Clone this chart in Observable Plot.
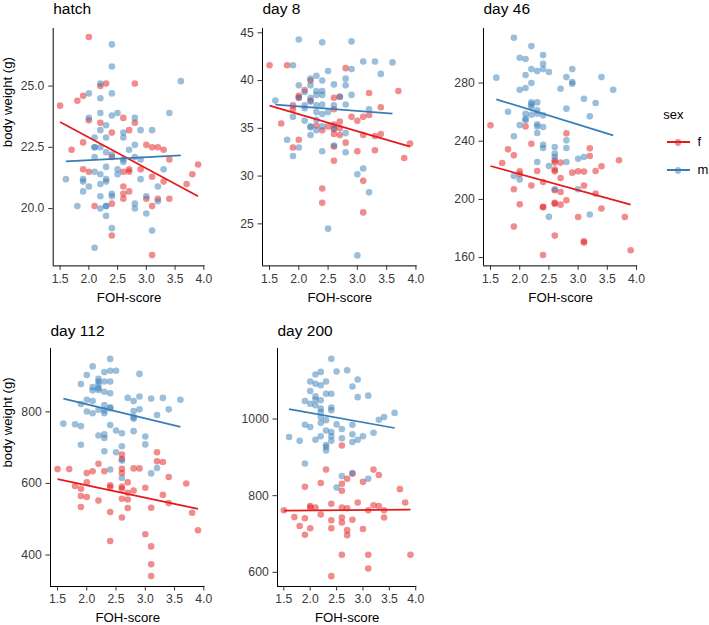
<!DOCTYPE html>
<html><head><meta charset="utf-8">
<script src="https://cdn.jsdelivr.net/npm/d3@7"></script>
<script src="https://cdn.jsdelivr.net/npm/@observablehq/plot@0.6"></script>
<style>
body{margin:0;background:#fff;font-family:"Liberation Sans",Arial,sans-serif;}
#root{position:relative;width:709px;height:625px;overflow:hidden;}
.panel{position:absolute;}
.lg{position:absolute;line-height:1;color:#000;white-space:nowrap;}
.key{position:absolute;width:23px;height:16px;}
.key .dot{position:absolute;left:8.2px;top:4.7px;width:6.6px;height:6.6px;border-radius:50%;opacity:0.5;}
.key .ln{position:absolute;left:0;top:7.2px;width:23px;height:1.7px;}
</style></head><body><div id="root"></div>
<script>
const sexes = ["f", "m"];
const sexColors = ["#E41A1C", "#377EB8"];
const xTicks = [1.5, 2.0, 2.5, 3.0, 3.5, 4.0];
const xDomain = [1.38, 4.02];
const panelTitles = ["hatch", "day 8", "day 46", "day 112", "day 200"];

// ---- hatch ----
const hatchF = [[1.5,24.2],[1.7,22.4],[1.8,24.4],[1.9,24.6],[1.9,22.7],[1.9,21.6],[2.0,27.0],[2.0,23.6],[2.0,21.5],[2.1,20.1],[2.2,25.0],[2.2,23.5],[2.3,25.1],[2.4,23.1],[2.4,22.1],[2.4,20.2],[2.4,18.9],[2.6,23.7],[2.6,21.5],[2.6,20.9],[2.6,20.6],[2.6,20.4],[2.7,23.2],[2.7,21.6],[2.7,21.5],[2.7,20.7],[2.8,25.1],[2.8,23.5],[2.9,21.6],[3.0,22.6],[3.0,20.4],[3.1,22.5],[3.1,21.3],[3.1,20.1],[3.1,18.1],[3.2,22.5],[3.2,20.4],[3.3,22.4],[3.3,21.1],[3.4,22.0],[3.4,20.4],[3.7,21.0],[3.8,21.4],[3.9,21.8]];
const hatchM = [[1.6,21.2],[1.8,20.1],[1.9,21.2],[1.9,21.1],[1.9,20.7],[2.0,24.7],[2.0,23.7],[2.0,20.9],[2.1,22.9],[2.1,22.5],[2.1,22.5],[2.1,22.1],[2.1,21.5],[2.1,18.4],[2.2,25.1],[2.2,24.5],[2.2,23.9],[2.2,23.2],[2.2,22.5],[2.2,21.4],[2.2,21.0],[2.2,20.5],[2.2,20.0],[2.3,23.4],[2.3,22.9],[2.3,22.3],[2.3,21.7],[2.3,21.2],[2.3,21.1],[2.3,20.1],[2.3,20.1],[2.3,19.7],[2.4,26.7],[2.4,25.8],[2.4,24.7],[2.4,23.8],[2.4,22.2],[2.4,20.6],[2.4,20.5],[2.4,19.2],[2.5,23.9],[2.5,21.6],[2.5,21.4],[2.6,23.1],[2.6,22.9],[2.6,22.0],[2.6,21.9],[2.7,22.4],[2.8,23.7],[2.8,22.6],[2.8,22.1],[2.8,20.2],[2.8,20.0],[2.9,23.2],[2.9,22.0],[2.9,21.2],[3.0,20.5],[3.0,19.8],[3.1,23.2],[3.1,19.1],[3.2,20.9],[3.2,20.3],[3.3,21.6],[3.4,23.9],[3.6,25.2]];
const hatchFit = [["f",1.5,23.53,3.9,20.50],["m",1.6,21.93,3.6,22.17]];
const hatchYDomain = [17.66, 27.35];
const hatchYTicks = [20, 22.5, 25];

// ---- day 8 ----
const day8F = [[1.5,41.6],[1.7,35.5],[1.8,41.6],[1.9,37.4],[1.9,37.0],[1.9,33.0],[2.0,38.4],[2.0,38.2],[2.0,33.8],[2.1,39.0],[2.2,40.0],[2.2,37.9],[2.3,35.3],[2.4,34.8],[2.4,28.7],[2.4,27.2],[2.5,35.2],[2.6,38.2],[2.6,37.0],[2.6,35.4],[2.6,34.9],[2.6,34.4],[2.6,33.1],[2.6,31.6],[2.7,38.3],[2.7,35.7],[2.7,35.0],[2.7,34.3],[2.8,41.3],[2.8,33.5],[2.9,36.2],[3.0,35.8],[3.0,32.6],[3.1,36.2],[3.1,34.3],[3.1,29.5],[3.1,26.2],[3.2,38.7],[3.2,36.4],[3.3,34.2],[3.3,32.7],[3.4,37.2],[3.4,34.4],[3.7,38.9],[3.8,31.9],[3.9,33.4]];
const day8M = [[1.6,37.9],[1.8,33.8],[1.9,41.6],[1.9,36.2],[1.9,32.1],[2.0,44.3],[2.0,39.5],[2.0,38.2],[2.0,33.0],[2.1,38.8],[2.1,37.4],[2.1,37.1],[2.1,35.8],[2.2,40.2],[2.2,39.5],[2.2,38.2],[2.2,37.8],[2.2,35.2],[2.2,35.1],[2.2,34.3],[2.3,40.5],[2.3,38.9],[2.3,38.5],[2.3,37.4],[2.3,36.7],[2.3,35.9],[2.3,34.8],[2.4,44.0],[2.4,40.0],[2.4,38.9],[2.4,38.5],[2.4,37.5],[2.4,36.5],[2.4,35.2],[2.4,32.6],[2.5,41.0],[2.5,36.7],[2.5,24.5],[2.6,39.6],[2.6,37.4],[2.6,35.0],[2.6,33.2],[2.7,38.3],[2.8,40.2],[2.8,39.5],[2.8,37.5],[2.8,34.5],[2.8,32.5],[2.9,44.1],[2.9,41.2],[2.9,38.5],[3.0,30.2],[3.0,21.7],[3.1,42.0],[3.1,30.8],[3.2,37.0],[3.2,28.3],[3.3,42.0],[3.4,40.7],[3.6,41.9]];
const day8Fit = [["f",1.5,37.37,3.9,33.08],["m",1.6,37.48,3.6,36.54]];
const day8YDomain = [20.6, 45.45];
const day8YTicks = [25, 30, 35, 40, 45];

// ---- day 46 ----
const day46F = [[1.5,250.9],[1.7,225.0],[1.8,234.4],[1.9,230.3],[1.9,207.0],[1.9,181.3],[2.0,219.3],[2.0,217.3],[2.0,196.6],[2.1,250.2],[2.2,238.3],[2.2,209.5],[2.3,219.5],[2.4,212.0],[2.4,195.0],[2.4,194.6],[2.4,161.8],[2.6,226.9],[2.6,225.3],[2.6,220.5],[2.6,219.3],[2.6,206.3],[2.6,197.6],[2.6,197.0],[2.6,175.1],[2.7,225.3],[2.7,214.7],[2.7,205.1],[2.7,196.4],[2.8,245.4],[2.8,199.4],[2.9,218.4],[3.0,219.3],[3.0,187.9],[3.1,219.1],[3.1,209.5],[3.1,171.2],[3.1,170.3],[3.2,235.1],[3.2,229.8],[3.3,219.5],[3.3,204.0],[3.4,222.8],[3.4,193.7],[3.7,226.9],[3.8,187.9],[3.9,165.0]];
const day46M = [[1.6,283.7],[1.8,260.3],[1.9,311.1],[1.9,243.4],[1.9,216.1],[2.0,297.4],[2.0,275.4],[2.0,251.1],[2.0,213.6],[2.1,296.5],[2.1,285.5],[2.1,276.6],[2.1,258.9],[2.1,255.5],[2.1,254.4],[2.2,305.4],[2.2,289.6],[2.2,280.0],[2.2,266.7],[2.2,265.3],[2.2,263.5],[2.2,258.2],[2.3,288.2],[2.3,266.7],[2.3,261.2],[2.3,258.9],[2.3,251.6],[2.3,250.2],[2.3,245.7],[2.3,225.7],[2.4,299.2],[2.4,293.3],[2.4,289.6],[2.4,257.8],[2.4,249.8],[2.4,237.6],[2.4,235.3],[2.5,287.6],[2.5,223.0],[2.5,188.0],[2.6,236.0],[2.6,231.5],[2.6,229.2],[2.6,207.0],[2.7,276.1],[2.8,284.1],[2.8,262.4],[2.8,240.6],[2.8,235.3],[2.8,225.7],[2.9,289.6],[2.9,280.7],[2.9,279.5],[3.0,228.0],[3.0,207.0],[3.1,269.2],[3.1,229.2],[3.2,257.1],[3.2,189.6],[3.3,266.3],[3.4,284.1],[3.6,275.4]];
const day46Fit = [["f",1.5,223.0,3.9,196.4],["m",1.6,268.8,3.6,244.0]];
const day46YDomain = [154.3, 317.5];
const day46YTicks = [160, 200, 240, 280];

// ---- day 112 ----
const day112F = [[1.5,640],[1.7,640],[1.8,593],[1.9,585],[1.9,565],[1.9,534],[2.0,629],[2.0,603],[2.0,562],[2.1,634],[2.2,655],[2.2,552],[2.3,634],[2.4,595],[2.4,589],[2.4,520],[2.4,439],[2.6,681],[2.6,668],[2.6,641],[2.6,629],[2.6,591],[2.6,585],[2.6,557],[2.6,505],[2.7,603],[2.7,574],[2.7,555],[2.7,531],[2.8,642],[2.8,580],[2.9,642],[3.0,588],[3.0,458],[3.1,532],[3.1,424],[3.1,374],[3.1,341],[3.2,687],[3.2,662],[3.3,660],[3.3,568],[3.4,618],[3.4,545],[3.7,600],[3.8,518],[3.9,469]];
const day112M = [[1.6,767],[1.8,765],[1.9,878],[1.9,822],[1.9,760],[1.9,708],[2.0,903],[2.0,834],[2.0,801],[2.1,927],[2.1,869],[2.1,860],[2.1,830],[2.1,796],[2.2,892],[2.2,885],[2.2,876],[2.2,866],[2.2,861],[2.2,806],[2.2,734],[2.3,911],[2.3,885],[2.3,856],[2.3,819],[2.3,804],[2.3,796],[2.3,737],[2.3,727],[2.3,690],[2.4,948],[2.4,915],[2.4,885],[2.4,852],[2.4,813],[2.4,810],[2.4,763],[2.4,639],[2.5,915],[2.5,748],[2.5,687],[2.6,740],[2.6,704],[2.6,664],[2.6,615],[2.7,839],[2.8,830],[2.8,802],[2.8,785],[2.8,781],[2.8,746],[2.9,906],[2.9,843],[2.9,807],[3.0,731],[3.0,709],[3.1,837],[3.1,628],[3.2,791],[3.2,643],[3.3,839],[3.4,807],[3.6,834]];
const day112Fit = [["f",1.5,612,3.9,529],["m",1.6,837,3.6,758]];
const day112YDomain = [312, 977];
const day112YTicks = [400, 600, 800];

// ---- day 200 ----
const day200F = [[1.5,762],[1.7,744],[1.8,721],[1.9,823],[1.9,741],[1.9,698],[2.0,773],[2.0,769],[2.0,715],[2.1,769],[2.2,833],[2.2,751],[2.3,868],[2.4,779],[2.4,736],[2.4,715],[2.4,590],[2.6,931],[2.6,831],[2.6,813],[2.6,769],[2.6,743],[2.6,730],[2.6,646],[2.7,844],[2.7,767],[2.7,710],[2.7,697],[2.8,857],[2.8,737],[2.9,782],[3.0,836],[3.0,713],[3.1,762],[3.1,646],[3.1,610],[3.2,868],[3.2,775],[3.3,854],[3.3,773],[3.4,762],[3.4,743],[3.7,817],[3.8,782],[3.9,646]];
const day200M = [[1.6,953],[1.8,943],[1.9,1047],[1.9,985],[1.9,884],[2.0,1098],[2.0,1073],[2.0,1040],[2.0,979],[2.1,1116],[2.1,1092],[2.1,1059],[2.1,1050],[2.1,1036],[2.1,946],[2.2,1123],[2.2,1088],[2.2,1049],[2.2,1027],[2.2,1018],[2.2,1005],[2.2,990],[2.2,955],[2.3,1098],[2.3,1066],[2.3,997],[2.3,970],[2.3,932],[2.3,927],[2.3,918],[2.4,1157],[2.4,1066],[2.4,1030],[2.4,1023],[2.4,966],[2.4,955],[2.4,943],[2.5,1124],[2.5,986],[2.5,821],[2.6,974],[2.6,950],[2.6,851],[2.7,1127],[2.8,1085],[2.8,985],[2.8,960],[2.8,940],[2.8,859],[2.9,1103],[2.9,1057],[2.9,946],[3.0,955],[3.1,1061],[3.1,844],[3.2,964],[3.3,998],[3.4,1005],[3.6,1016]];
const day200Fit = [["f",1.5,761,3.9,763.5],["m",1.6,1026,3.6,976.5]];
const day200YDomain = [563, 1184];
const day200YTicks = [600, 800, 1000];

// layout of each panel's frame (page pixels)
const layout = [
  {left: 52.7, right: 204.5, top: 28.3, bottom: 265.7, titleBase: 13.6, ylab: true},
  {left: 262.3, right: 416.9, top: 28.3, bottom: 265.7, titleBase: 13.6, ylab: false},
  {left: 482.7, right: 636.9, top: 28.3, bottom: 265.7, titleBase: 13.6, ylab: false},
  {left: 50.0, right: 204.5, top: 348.0, bottom: 586.0, titleBase: 335.8, ylab: true},
  {left: 276.7, right: 416.0, top: 348.0, bottom: 586.0, titleBase: 335.8, ylab: false}
];

const panels = [
  {F: hatchF, M: hatchM, fit: hatchFit, yDomain: hatchYDomain, yTicks: hatchYTicks, yFmt: ".1f"},
  {F: day8F, M: day8M, fit: day8Fit, yDomain: day8YDomain, yTicks: day8YTicks, yFmt: "d"},
  {F: day46F, M: day46M, fit: day46Fit, yDomain: day46YDomain, yTicks: day46YTicks, yFmt: "d"},
  {F: day112F, M: day112M, fit: day112Fit, yDomain: day112YDomain, yTicks: day112YTicks, yFmt: "d"},
  {F: day200F, M: day200M, fit: day200Fit, yDomain: day200YDomain, yTicks: day200YTicks, yFmt: "d"}
];

const root = document.getElementById("root");
const FONT = "'Liberation Sans', Arial, sans-serif";
const TICK_COLOR = "#3a3a3a";

panels.forEach((p, i) => {
  const L = layout[i];
  const mL = L.ylab ? L.left : 48;
  const mT = 30, mB = 44, mR = 10;
  const W = mL + (L.right - L.left) + mR;
  const H = mT + (L.bottom - L.top) + mB;
  const rows = [
    ...p.F.map(([x, y]) => ({sex: "f", x, y})),
    ...p.M.map(([x, y]) => ({sex: "m", x, y}))
  ];
  const fits = p.fit.map(([sex, x1, y1, x2, y2]) => ({sex, x1, y1, x2, y2}));
  const marks = [
    Plot.dot(rows, {x: "x", y: "y", fill: "sex", r: 3.3, fillOpacity: 0.5, stroke: "none"}),
    Plot.link(fits, {x1: "x1", y1: "y1", x2: "x2", y2: "y2", stroke: "sex", strokeWidth: 1.7}),
    Plot.ruleX([xDomain[0]], {stroke: "#000", strokeWidth: 1}),
    Plot.ruleY([p.yDomain[0]], {stroke: "#000", strokeWidth: 1}),
    Plot.axisX({ticks: xTicks, tickFormat: d3.format(".1f"), tickSize: 4.5, tickPadding: 3.8, label: null, fontSize: 12.2, stroke: "#333", fill: TICK_COLOR}),
    Plot.axisY({ticks: p.yTicks, tickFormat: d3.format(p.yFmt), tickSize: 4.5, tickPadding: 4.3, label: null, fontSize: 12.2, stroke: "#333", fill: TICK_COLOR}),
    Plot.text([panelTitles[i]], {text: d => d, frameAnchor: "top-left", textAnchor: "start", lineAnchor: "bottom", dy: -(L.top - L.titleBase), fontSize: 15.5, fontWeight: "normal", fill: "#000"}),
    Plot.text(["FOH-score"], {text: d => d, frameAnchor: "bottom", lineAnchor: "top", dy: 26.3, fontSize: 13.2, fontWeight: "normal", fill: "#000"})
  ];
  if (L.ylab) {
    marks.push(Plot.text(["body weight (g)"], {text: d => d, frameAnchor: "left", rotate: -90, lineAnchor: "top", dx: -(mL - 2), fontSize: 13.2, fontWeight: "normal", fill: "#000"}));
  }
  const chart = Plot.plot({
    width: W, height: H,
    marginLeft: mL, marginTop: mT, marginBottom: mB, marginRight: mR,
    style: {fontFamily: FONT, background: "transparent", overflow: "visible", color: "#333"},
    x: {domain: xDomain},
    y: {domain: p.yDomain},
    color: {domain: sexes, range: sexColors},
    marks
  });
  const wrap = document.createElement("div");
  wrap.className = "panel";
  wrap.style.left = (L.left - mL) + "px";
  wrap.style.top = (L.top - mT) + "px";
  wrap.appendChild(chart);
  root.appendChild(wrap);
});

// legend
const lgTitle = document.createElement("div");
lgTitle.className = "lg";
lgTitle.style.cssText = "left:663.3px;top:108.3px;font-size:13px;font-family:" + FONT;
lgTitle.textContent = "sex";
root.appendChild(lgTitle);
const keyCenters = [142.3, 170.3];
const labelBaselines = [146.5, 174.2];
sexes.forEach((s, i) => {
  const key = document.createElement("div");
  key.className = "key";
  key.style.left = "666.5px";
  key.style.top = (keyCenters[i] - 8) + "px";
  key.innerHTML = `<div class="dot" style="background:${sexColors[i]}"></div><div class="ln" style="background:${sexColors[i]}"></div>`;
  root.appendChild(key);
  const lab = document.createElement("div");
  lab.className = "lg";
  lab.style.cssText = `left:697.5px;top:${labelBaselines[i] - 0.8465 * 13}px;font-size:13px;font-family:${FONT}`;
  lab.textContent = s;
  root.appendChild(lab);
});
</script>
</body></html>
